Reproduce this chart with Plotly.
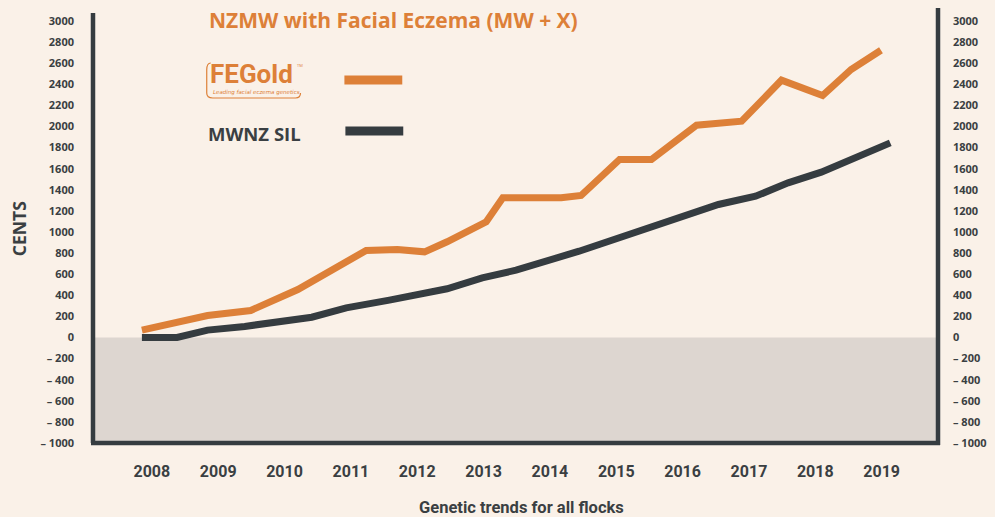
import plotly.graph_objects as go

# ---- data ----
years = [2008, 2009, 2010, 2011, 2012, 2013, 2014, 2015, 2016, 2017, 2018, 2019]
fegold_x = [2007.85, 2008.84, 2009.49, 2010.20, 2011.23, 2011.70, 2012.11, 2012.45, 2013.04, 2013.29,
            2014.17, 2014.47, 2015.05, 2015.53, 2016.21, 2016.89, 2017.49, 2018.11, 2018.54, 2018.99]
fegold_v = [70, 208, 256, 455, 825, 834, 812, 907, 1097, 1324,
            1324, 1346, 1687, 1687, 2012, 2050, 2439, 2294, 2540, 2723]
sil_x = [2007.85, 2008.38, 2008.84, 2009.40, 2010.41, 2010.93, 2011.58, 2012.45, 2012.98, 2013.49,
         2014.44, 2015.04, 2015.49, 2016.54, 2017.10, 2017.59, 2018.09, 2018.60, 2019.13]
sil_v = [0, 0, 70, 105, 192, 281, 354, 462, 566, 638,
         818, 945, 1040, 1261, 1339, 1466, 1567, 1703, 1845]
y_ticks = list(range(-1000, 3001, 200))
y_ticktext = [str(v) if v >= 0 else "\u2013 " + str(-v) for v in y_ticks]

ORANGE = "#dd8038"
DARK = "#353c40"
BG = "#faf1e8"
SHADE = "#ddd6d0"
W, H = 995, 517
L, R, T, B = 92, 54, 8, 74
PW, PH = W - L - R, H - T - B


def px(x):
    return (x - L) / PW


def py(y):
    return (H - B - y) / PH


fig = go.Figure()
fig.add_trace(go.Scatter(x=fegold_x, y=fegold_v, mode="lines",
                         line=dict(color=ORANGE, width=7), showlegend=False, hoverinfo="skip"))
fig.add_trace(go.Scatter(x=sil_x, y=sil_v, mode="lines",
                         line=dict(color=DARK, width=7), showlegend=False, hoverinfo="skip"))
fig.add_trace(go.Scatter(x=[years[0]], y=[0], yaxis="y2", mode="markers",
                         marker=dict(opacity=0), showlegend=False, hoverinfo="skip"))

ymax = 3000 + (21 - 8) / (422 / 4000)
yr = [-1000, ymax]
x0 = 2008 + (L - 152) / 66.5
x1 = 2008 + (W - R - 152) / 66.5

tickfont = dict(family="Open Sans", size=11, color="#3a3f42", weight="bold")
fig.update_layout(
    width=W, height=H, margin=dict(l=L, r=R, t=T, b=B),
    paper_bgcolor=BG, plot_bgcolor=BG,
    xaxis=dict(range=[x0, x1], tickvals=years, ticktext=[str(y) for y in years],
               showgrid=False, zeroline=False, showline=False,
               tickfont=dict(family="Roboto", size=16, color="#3a3f42", weight="bold"),
               ticklabelstandoff=17),
    yaxis=dict(range=yr, tickvals=y_ticks, ticktext=y_ticktext, showgrid=False,
               zeroline=False, showline=False, tickfont=tickfont, ticklabelstandoff=17),
    yaxis2=dict(range=yr, overlaying="y", side="right", tickvals=y_ticks, ticktext=y_ticktext,
                showgrid=False, zeroline=False, showline=False, tickfont=tickfont,
                ticklabelstandoff=13),
)

shapes = [
    dict(type="rect", xref="paper", yref="y", x0=0, x1=1, y0=-1000, y1=0,
         fillcolor=SHADE, line=dict(width=0), layer="below"),
    dict(type="line", xref="paper", yref="y", x0=px(93), x1=px(93), y0=-1000 - 15,
         y1=3000 + (21 - 13) / (422 / 4000), line=dict(color=DARK, width=4.5)),
    dict(type="line", xref="paper", yref="paper", x0=px(940), x1=px(940), y0=py(445),
         y1=1, line=dict(color=DARK, width=4.5)),
    dict(type="line", xref="paper", yref="paper", x0=px(91), x1=px(942), y0=py(443),
         y1=py(443), line=dict(color=DARK, width=4.5)),
    # legend swatches
    dict(type="line", xref="paper", yref="paper", x0=px(345), x1=px(403), y0=py(80), y1=py(80),
         line=dict(color=ORANGE, width=9)),
    dict(type="line", xref="paper", yref="paper", x0=px(346), x1=px(404), y0=py(131), y1=py(131),
         line=dict(color=DARK, width=9)),
    # logo border
    dict(type="path", xref="paper", yref="paper",
         path=(f"M {px(211)} {py(63)} Q {px(207)} {py(63)} {px(207)} {py(70)} "
               f"L {px(207)} {py(93)} Q {px(207)} {py(98)} {px(213)} {py(98)} "
               f"L {px(296)} {py(98)} Q {px(301)} {py(98)} {px(301)} {py(93)}"),
         line=dict(color=ORANGE, width=1.2)),
]
fig.update_layout(shapes=shapes)

ann = [
    dict(text="NZMW with Facial Eczema (MW + X)", x=px(207), y=py(20), xanchor="left",
         yanchor="middle", font=dict(family="Open Sans", size=21, color=ORANGE, weight="bold")),
    dict(text="FEGold", x=px(208), y=py(74), xanchor="left", yanchor="middle",
         font=dict(family="Roboto", size=26, color=ORANGE, weight="bold")),
    dict(text="TM", x=px(295), y=py(65), xanchor="left", yanchor="middle",
         font=dict(family="Open Sans", size=4, color=ORANGE)),
    dict(text="<i>Leading facial eczema genetics</i>", x=px(211), y=py(92), xanchor="left",
         yanchor="middle", font=dict(family="DejaVu Sans", size=5.5, color=ORANGE)),
    dict(text="MWNZ SIL", x=px(206), y=py(133), xanchor="left", yanchor="middle",
         font=dict(family="Open Sans", size=18.5, color="#3a3f42", weight="bold")),
    dict(text="CENTS", x=px(19), y=py(229), textangle=-90, xanchor="center", yanchor="middle",
         font=dict(family="Open Sans", size=17.5, color="#3a3f42", weight="bold")),
    dict(text="Genetic trends for all flocks", x=px(523), y=py(508), xanchor="center",
         yanchor="middle",
         font=dict(family="Roboto", size=16.5, color="#3a3f42", weight="bold")),
]
for a in ann:
    a.update(xref="paper", yref="paper", showarrow=False)
fig.update_layout(annotations=ann)

fig.write_html("out.html", config={"displayModeBar": False},
               post_script="document.body.style.margin='0';document.body.style.overflow='hidden';")
